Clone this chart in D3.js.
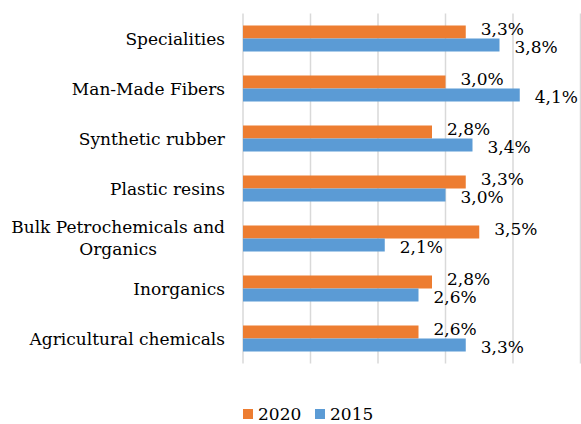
<!DOCTYPE html>
<html>
<head>
<meta charset="utf-8">
<script src="https://cdn.jsdelivr.net/npm/d3@7"></script>
<style>
	body { margin: 0; background: #fff; }
</style>
</head>
<body>
<div id="chart"></div>
<script>
var categories = ["Specialities", "Man-Made Fibers", "Synthetic rubber", "Plastic resins",
	"Bulk Petrochemicals and|Organics", "Inorganics", "Agricultural chemicals"];
var values2020 = [3.3, 3.0, 2.8, 3.3, 3.5, 2.8, 2.6];
var values2015 = [3.8, 4.1, 3.4, 3.0, 2.1, 2.6, 3.3];
var seriesNames = ["2020", "2015"];
var xTicks = [0, 1, 2, 3, 4, 5];

drawChart();

function drawChart() {
	var svg = d3.select("#chart")
		.append("svg")
		.attr("width", 581)
		.attr("height", 424)
		.attr("font-family", "'DejaVu Serif', serif")
		.attr("font-size", 17);

	var colors = {"2020": "#ED7D31", "2015": "#5B9BD5"};

	var xScale = d3.scaleLinear().domain([0, 5]).range([243, 580.5]);
	var yScale = d3.scaleBand().domain(categories).range([13.5, 363.5])
		.paddingInner(0.48).paddingOuter(0.24);
	var sub = d3.scaleBand().domain(seriesNames).range([0, yScale.bandwidth()]);

	// gridlines
	svg.append("g").selectAll("line")
		.data(xTicks).enter().append("line")
		.attr("x1", function(d) { return xScale(d); })
		.attr("x2", function(d) { return xScale(d); })
		.attr("y1", 13.5)
		.attr("y2", 363.5)
		.style("stroke", "#d9d9d9")
		.style("stroke-width", 1.5);

	var rows = categories.map(function(c, i) {
		return {cat: c, vals: [{s: "2020", v: values2020[i]}, {s: "2015", v: values2015[i]}]};
	});

	var groups = svg.selectAll(".cat")
		.data(rows).enter().append("g")
		.attr("class", "cat")
		.attr("transform", function(d) { return "translate(0," + yScale(d.cat) + ")"; });

	// bars
	groups.selectAll("rect")
		.data(function(d) { return d.vals; })
		.enter().append("rect")
		.attr("x", xScale(0))
		.attr("y", function(d) { return sub(d.s); })
		.attr("width", function(d) { return xScale(d.v) - xScale(0); })
		.attr("height", sub.bandwidth())
		.style("fill", function(d) { return colors[d.s]; });

	// value labels
	var fmt = function(v) { return d3.format(".1f")(v).replace(".", ",") + "%"; };
	groups.selectAll(".val")
		.data(function(d) { return d.vals; })
		.enter().append("text")
		.attr("class", "val")
		.attr("x", function(d) { return xScale(d.v) + 15; })
		.attr("y", function(d) { return sub(d.s) + sub.bandwidth() / 2 + (d.s == "2020" ? 3 : 7.5); })
		.text(function(d) { return fmt(d.v); });

	// category labels
	groups.each(function(d) {
		var g = d3.select(this),
			lines = d.cat.split("|"),
			cy = yScale.bandwidth() / 2;
		if (lines.length == 1) {
			g.append("text")
				.attr("x", 225)
				.attr("y", cy + 6)
				.attr("text-anchor", "end")
				.text(lines[0]);
		} else {
			var first = g.append("text")
				.attr("text-anchor", "middle")
				.attr("y", cy - 6)
				.text(lines[0]);
			var mid = 225 - first.node().getComputedTextLength() / 2;
			first.attr("x", mid);
			g.append("text")
				.attr("x", mid)
				.attr("y", cy + 16)
				.attr("text-anchor", "middle")
				.text(lines[1]);
		}
	});

	// legend
	var legendX = [243, 315];
	var legend = svg.selectAll(".legend")
		.data(seriesNames).enter().append("g")
		.attr("class", "legend")
		.attr("transform", function(d, i) { return "translate(" + legendX[i] + ",409)"; });

	legend.append("rect")
		.attr("width", 10)
		.attr("height", 10)
		.style("fill", function(d) { return colors[d]; });

	legend.append("text")
		.attr("x", 15)
		.attr("y", 10.5)
		.text(function(d) { return d; });
}
</script>
</body>
</html>
